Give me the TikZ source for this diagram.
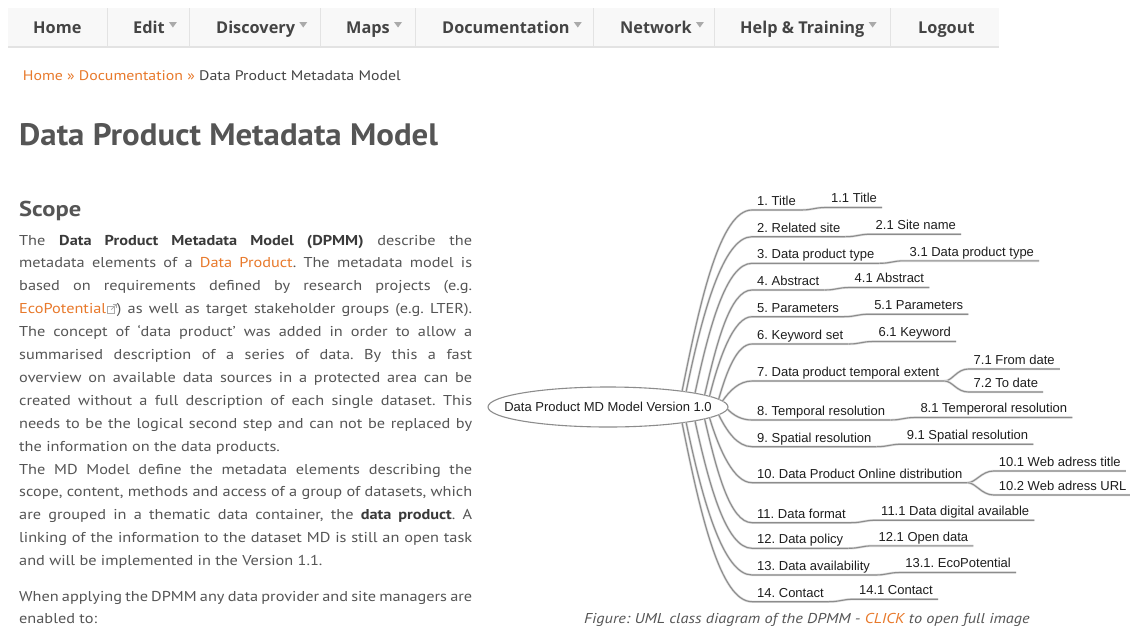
\documentclass[tikz,border=0pt]{standalone}
\usepackage{fontspec}
\setmainfont{PT Sans}[FakeStretch=1.14]
\newfontfamily\headfont{PT Sans}[FakeStretch=1.06]
\newfontfamily\navfont{Open Sans}
\newfontfamily\mapfont{Liberation Sans}
\usetikzlibrary{positioning,calc,shapes.geometric}

\definecolor{bodygray}{HTML}{555555}
\definecolor{boldgray}{HTML}{3A3A3A}
\definecolor{linkorange}{HTML}{E8792B}
\definecolor{navbg}{HTML}{F8F8F8}
\definecolor{navline}{HTML}{E3E3E3}
\definecolor{navtext}{HTML}{444444}
\definecolor{caretgray}{HTML}{AAAAAA}
\definecolor{mapline}{HTML}{8C8C8C}
\definecolor{mapshade}{HTML}{DDDDDD}
\definecolor{maptext}{HTML}{1E1E1E}

\newcommand{\weblink}[1]{\textcolor{linkorange}{#1}}
\newcommand{\boldterm}[1]{\textcolor{boldgray}{\bfseries #1}}
\newcommand{\fullline}[1]{\makebox[453pt][s]{#1}}
\newcommand{\exticon}{\hspace{1pt}\tikz[x=1pt,y=1pt,baseline=0pt,line width=0.7pt]{%
  \draw[caretgray] (0.5,0.5) rectangle (7.5,7.5);
  \draw[caretgray] (4,4) -- (9.5,9.5);
  \draw[caretgray] (6,9.5) -- (9.5,9.5) -- (9.5,6);}}
\frenchspacing

\begin{document}
\begin{tikzpicture}[
  x=1pt, y=-1pt,
  navitem/.style={anchor=base west, inner sep=0pt, text=navtext, font=\navfont\bfseries\fontsize{16.3}{18}\selectfont},
  bodyline/.style={anchor=base west, inner sep=0pt, text=bodygray, font=\fontsize{14.3}{17}\selectfont},
  heading/.style={anchor=base west, inner sep=0pt, text=bodygray},
  rootnode/.style={ellipse, draw=mapline, line width=1.1pt, minimum width=240pt, minimum height=40pt,
    inner sep=0pt, outer sep=0pt, text=maptext, font=\mapfont\fontsize{13}{15}\selectfont},
  topicnode/.style={anchor=south west, inner xsep=5pt, inner ysep=0pt, text height=9.5pt, text depth=4.5pt,
    text=maptext, font=\mapfont\fontsize{13}{15}\selectfont},
  branchline/.style={draw=mapline, line width=1.1pt, preaction={draw=mapshade, line width=2.4pt}}
]
\clip (0,0) rectangle (1130,627);
\fill[white] (0,0) rectangle (1130,627);

% menu bar
\fill[navbg] (8,8) rectangle (999,46);
\fill[navline] (8,46) rectangle (999,48);
\foreach \s in {107,189,320,415,593,714,890}
  \draw[navline] (\s,8) -- (\s,46);

\node[navitem] (home) at (33,33.3) {Home};
\node[navitem] (edit) at (133,33.3) {Edit};
\node[navitem] (disc) at (216,33.3) {Discovery};
\node[navitem] (maps) at (346,33.3) {Maps};
\node[navitem] (docs) at (442,33.3) {Documentation};
\node[navitem] (net) at (620,33.3) {Network};
\node[navitem] (help) at (740,33.3) {Help \& Training};
\node[navitem] (logout) at (918,33.3) {Logout};

\foreach \m in {edit,disc,maps,docs,net,help}
  \fill[caretgray] (\m.east |- 0,22) ++(4,0) -- ++(8,0) -- ++(-4,5.5) -- cycle;

% breadcrumb and headings
\node[heading, text=navtext, font=\fontsize{13.9}{16}\selectfont] (crumb) at (22.7,80.7)
  {\weblink{Home} \weblink{»} \weblink{Documentation} \weblink{»} Data Product Metadata Model};
\node[heading, font=\headfont\bfseries\fontsize{31}{34}\selectfont] (title) at (19,145) {Data Product Metadata Model};
\node[heading, font=\bfseries\fontsize{21.5}{24}\selectfont] (scope) at (19,216.7) {Scope};

% scope text
\node[bodyline] (b1) at (19,245) {\fullline{The \boldterm{Data Product Metadata Model (DPMM)} describe the}};
\node[bodyline] (b2) at (19,267.9) {\fullline{metadata elements of a \weblink{Data Product}. The metadata model is}};
\node[bodyline] (b3) at (19,290.8) {\fullline{based on requirements defined by research projects (e.g.}};
\node[bodyline] (b4) at (19,313.7) {\fullline{\weblink{EcoPotential}\exticon) as well as target stakeholder groups (e.g. LTER).}};
\node[bodyline] (b5) at (19,336.6) {\fullline{The concept of ‘data product’ was added in order to allow a}};
\node[bodyline] (b6) at (19,359.5) {\fullline{summarised description of a series of data. By this a fast}};
\node[bodyline] (b7) at (19,382.4) {\fullline{overview on available data sources in a protected area can be}};
\node[bodyline] (b8) at (19,405.3) {\fullline{created without a full description of each single dataset. This}};
\node[bodyline] (b9) at (19,428.2) {\fullline{needs to be the logical second step and can not be replaced by}};
\node[bodyline] (b10) at (19,451.1) {the information on the data products.};
\node[bodyline] (b11) at (19,474) {\fullline{The MD Model define the metadata elements describing the}};
\node[bodyline] (b12) at (19,496.9) {\fullline{scope, content, methods and access of a group of datasets, which}};
\node[bodyline] (b13) at (19,519.8) {\fullline{are grouped in a thematic data container, the \boldterm{data product}. A}};
\node[bodyline] (b14) at (19,542.7) {\fullline{linking of the information to the dataset MD is still an open task}};
\node[bodyline] (b15) at (19,565.6) {and will be implemented in the Version 1.1.};
\node[bodyline] (b16) at (19,601.5) {\fullline{When applying the DPMM any data provider and site managers are}};
\node[bodyline] (b17) at (19,623.5) {enabled to:};

% mind map
\node[rootnode] (root) at (608,407) {\makebox[0pt]{Data Product MD Model Version 1.0}};

\foreach \n/\u/\txt in {1/210/1. Title, 2/236.7/2. Related site, 3/263.3/3. Data product type,
    4/290/4. Abstract, 5/316.7/5. Parameters, 6/344/6. Keyword set,
    7/381/7. Data product temporal extent, 8/420/8. Temporal resolution,
    9/446.7/9. Spatial resolution, 10/482.7/10. Data Product Online distribution,
    11/522.7/11. Data format, 12/548.3/12. Data policy, 13/575/13. Data availability,
    14/601.7/14. Contact}
  \node[topicnode] (t\n) at (752,\u) {\txt};

\foreach \n/\txt in {1/1.1 Title, 2/2.1 Site name, 3/3.1 Data product type, 4/4.1 Abstract,
    5/5.1 Parameters, 6/6.1 Keyword, 8/8.1 Temperoral resolution, 9/9.1 Spatial resolution,
    11/11.1 Data digital available, 12/12.1 Open data, 13/13.1. EcoPotential, 14/14.1 Contact}
  \node[topicnode, above right=2.5pt and 25pt of t\n.south east] (c\n) {\txt};

\node[topicnode, above right=12pt and 24pt of t7.south east] (c7a) {7.1 From date};
\node[topicnode, below right=11pt and 24pt of t7.south east, anchor=south west] (c7b) {7.2 To date};
\node[topicnode, above right=11.7pt and 26pt of t10.south east] (c10a) {10.1 Web adress title};
\node[topicnode, below right=12.3pt and 26pt of t10.south east, anchor=south west] (c10b) {10.2 Web adress URL};

\foreach \n/\a/\u/\v/\w in {1/12/18/-90/32, 2/11/16/-78/29, 3/9/14/-65/26, 4/7/12/-52/22,
    5/6/10/-40/18, 6/4/8/-28/15, 7/3/7/-10/13, 8/-1/6/6/11, 9/-4/8/16/15, 10/-6/10/33/18,
    11/-7/12/52/22, 12/-9/14/64/26, 13/-11/16/77/29, 14/-12/18/90/32}
  \draw[branchline] (root.\a) .. controls +(\u,\v) and +(-\w,0) .. (t\n.south west) -- (t\n.south east);

\foreach \n in {1,2,3,4,5,6,8,9,11,12,13,14}
  \draw[branchline] (t\n.south east) .. controls +(12,0) and +(-12,0) .. (c\n.south west) -- (c\n.south east);

\foreach \m in {7,10}
  \foreach \k in {a,b}
    \draw[branchline] (t\m.south east) .. controls +(8,0) and +(-12,0) .. (c\m\k.south west) -- (c\m\k.south east);

\node[heading, font=\itshape\fontsize{14.3}{17}\selectfont] (caption) at (584,623.3)
  {Figure: UML class diagram of the DPMM - \weblink{CLICK} to open full image};

\end{tikzpicture}
\end{document}
